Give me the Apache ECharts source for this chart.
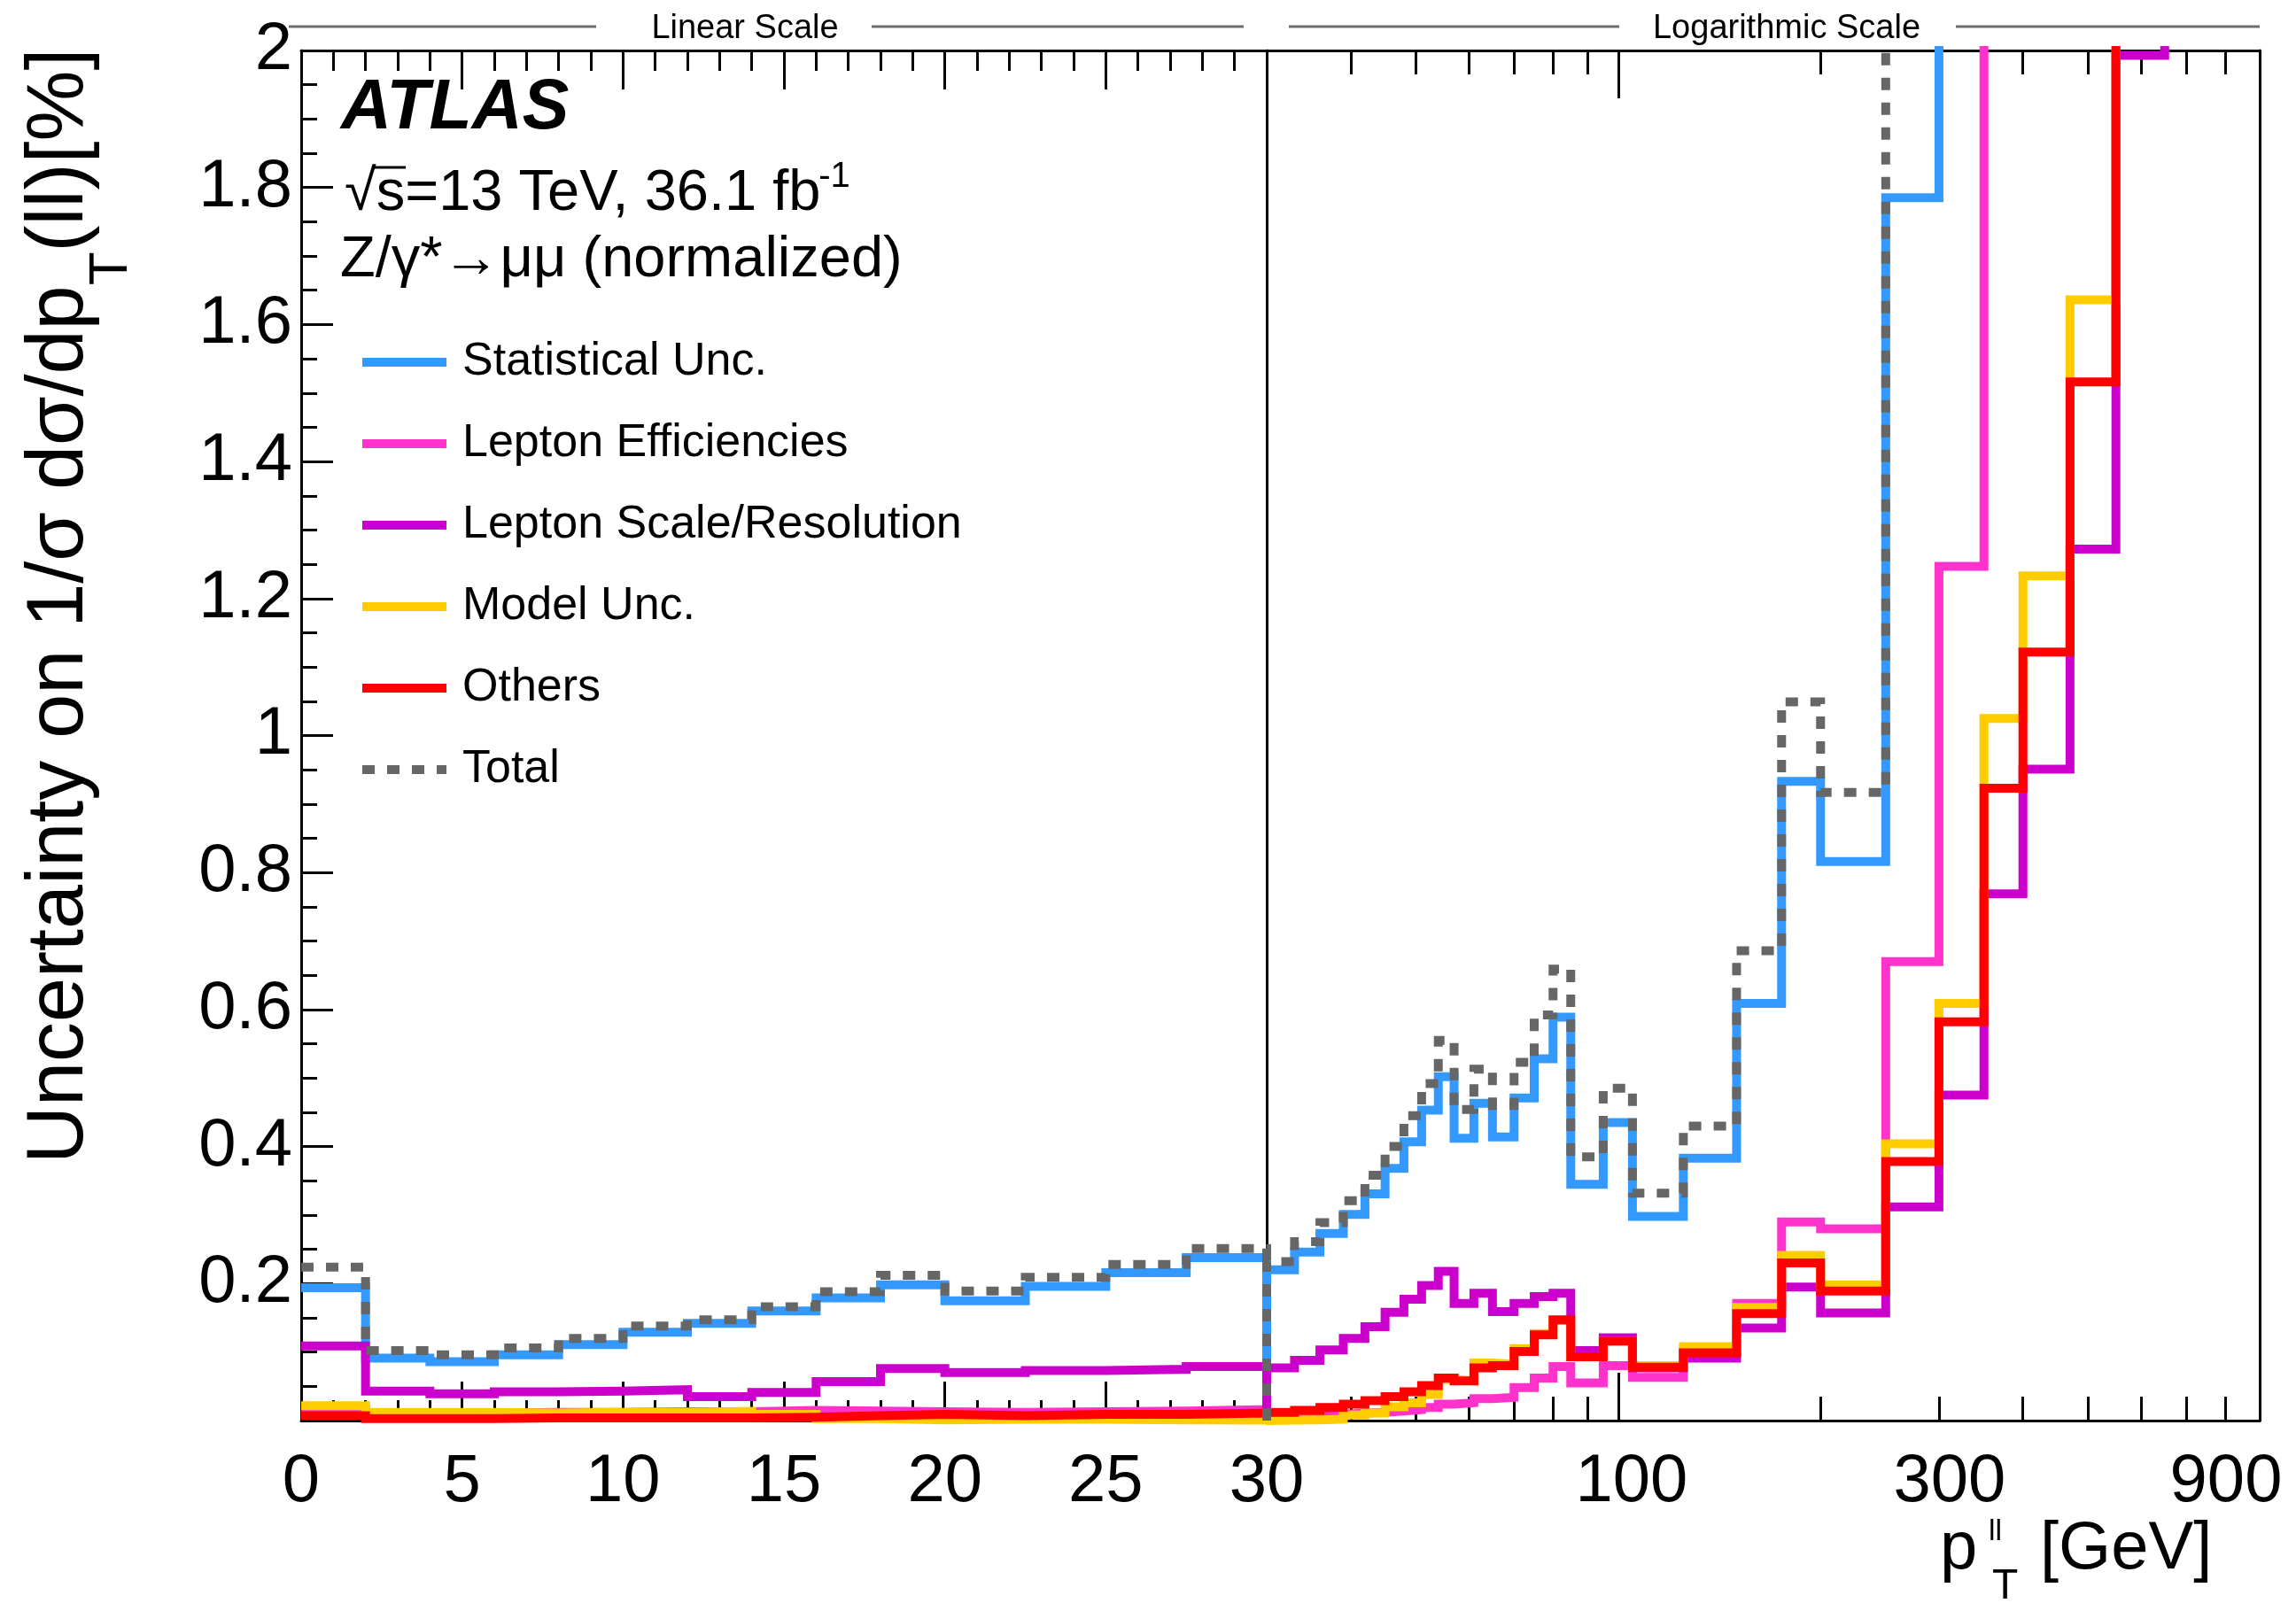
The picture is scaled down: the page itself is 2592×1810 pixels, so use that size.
<!DOCTYPE html>
<html>
<head>
<meta charset="utf-8">
<title>Uncertainty on normalized pT(ll)</title>
<script src="https://cdn.jsdelivr.net/npm/echarts@6/dist/echarts.min.js"></script>
<style>
html, body { margin: 0; padding: 0; background: #fff; }
#chart { width: 2592px; height: 1810px; }
</style>
</head>
<body>
<div id="chart"></div>
<script>
const FONT = "'Liberation Sans', Arial, Helvetica, sans-serif";

// bin edges [GeV]
const edgesLin = [0, 2, 4, 6, 8, 10, 12, 14, 16, 18, 20, 22.5, 25, 27.5, 30];
const edgesLog = [30, 33, 36, 39, 42, 45, 48, 51, 54, 57, 61, 65, 70, 75, 80, 85, 95, 105, 125,
  150, 175, 200, 250, 300, 350, 400, 470, 550, 650, 900];

// uncertainties [%], linear part 0-30 GeV
const statLin  = [0.194, 0.091, 0.086, 0.096, 0.111, 0.129, 0.142, 0.160, 0.179, 0.198, 0.175, 0.196, 0.216, 0.238];
const effLin   = [0.0155, 0.011, 0.011, 0.012, 0.012, 0.013, 0.013, 0.015, 0.014, 0.013, 0.012, 0.013, 0.014, 0.016];
const scaleLin = [0.109, 0.043, 0.039, 0.042, 0.043, 0.045, 0.035, 0.041, 0.057, 0.076, 0.070, 0.073, 0.075, 0.079];
const modelLin = [0.0215, 0.012, 0.012, 0.011, 0.012, 0.012, 0.0135, 0.009, 0.003, 0.001, 0.002, 0.002, 0.001, 0.0005];
const otherLin = [0.007, 0.003, 0.003, 0.004, 0.004, 0.004, 0.004, 0.005, 0.007, 0.009, 0.007, 0.009, 0.009, 0.011];
const totalLin = [0.224, 0.102, 0.096, 0.106, 0.120, 0.138, 0.147, 0.166, 0.188, 0.212, 0.189, 0.209, 0.228, 0.251];

// log part 30-900 GeV (values above 2 run out of the frame)
const statLog  = [0.220, 0.246, 0.273, 0.301, 0.331, 0.368, 0.407, 0.453, 0.502, 0.412, 0.463, 0.414, 0.471, 0.528, 0.589,
  0.345, 0.435, 0.298, 0.383, 0.609, 0.933, 0.816, 1.785, 2.6, 3.3, 4.0, 5.0, 6.2, 8.0];
const effLog   = [0.003, 0.005, 0.009, 0.011, 0.012, 0.014, 0.016, 0.019, 0.024, 0.026, 0.032, 0.034, 0.048, 0.062, 0.079,
  0.055, 0.080, 0.063, 0.100, 0.171, 0.290, 0.280, 0.670, 1.247, 2.4, 2.9, 3.5, 4.2, 5.0];
const scaleLog = [0.077, 0.088, 0.103, 0.120, 0.137, 0.158, 0.177, 0.197, 0.218, 0.171, 0.186, 0.159, 0.171, 0.181, 0.186,
  0.102, 0.121, 0.077, 0.091, 0.135, 0.195, 0.157, 0.312, 0.475, 0.769, 0.951, 1.272, 1.993, 2.6];
const modelLog = [0.0005, 0.001, 0.002, 0.008, 0.011, 0.020, 0.026, 0.038, 0.060, 0.058, 0.084, 0.082, 0.105, 0.127, 0.146,
  0.093, 0.116, 0.080, 0.108, 0.165, 0.241, 0.198, 0.404, 0.609, 1.025, 1.233, 1.636, 2.5, 3.3];
const otherLog = [0.012, 0.015, 0.019, 0.024, 0.029, 0.035, 0.042, 0.051, 0.062, 0.058, 0.077, 0.080, 0.101, 0.125, 0.147,
  0.093, 0.116, 0.078, 0.099, 0.156, 0.230, 0.189, 0.378, 0.582, 0.923, 1.122, 1.516, 2.4, 3.2];
const totalLog = [0.232, 0.261, 0.289, 0.321, 0.358, 0.400, 0.445, 0.492, 0.555, 0.454, 0.513, 0.460, 0.523, 0.592, 0.659,
  0.385, 0.485, 0.332, 0.430, 0.686, 1.049, 0.917, 2.5, 3.3, 4.0, 4.6, 5.6, 6.8, 8.6];

const names  = ['Statistical Unc.', 'Lepton Efficiencies', 'Lepton Scale/Resolution', 'Model Unc.', 'Others', 'Total'];
const colors = ['#3399ff', '#ff33cc', '#cc00cc', '#ffcc00', '#ff0000', '#666666'];
const linVals = [statLin, effLin, scaleLin, modelLin, otherLin, totalLin];
const logVals = [statLog, effLog, scaleLog, modelLog, otherLog, totalLog];

// log axis ticks / labels
const logMajor  = [100];
const logMinor  = [40, 50, 60, 70, 80, 90, 200, 300, 400, 500, 600, 700, 800, 900];
const logLabels = [100, 300, 900];

// step outline of a histogram; optionally drops to zero at its first / last edge
function histPoints(edges, vals, dropStart, dropEnd) {
  const last = edges[edges.length - 1];
  const pts = dropStart ? [[edges[0], 0]] : [];
  vals.forEach(function (v, i) { pts.push([edges[i], v]); });
  pts.push([last, vals[vals.length - 1]]);
  if (dropEnd) pts.push([last, 0]);
  return pts;
}

const measure = document.createElement('canvas').getContext('2d');
function textW(str, size, style) {
  measure.font = (style || '') + ' ' + size + 'px ' + FONT;
  return measure.measureText(str).width;
}

// text placed by its baseline
function txt(str, x, base, size, opts) {
  opts = opts || {};
  return {
    type: 'text', x: x, y: base - 0.35 * size, silent: true,
    style: {
      text: str, fontSize: size, fontFamily: FONT, fill: '#000',
      fontWeight: opts.weight || 'normal', fontStyle: opts.style || 'normal',
      textAlign: opts.align || 'left', align: opts.align || 'left',
      textVerticalAlign: 'middle', verticalAlign: 'middle'
    }
  };
}
function hline(x1, x2, y, color, w) {
  return { type: 'line', silent: true, shape: { x1: x1, y1: y, x2: x2, y2: y },
    style: { stroke: color, lineWidth: w } };
}

const L = 340, MID = 1430, R = 2551, TOP = 57, BOT = 1604;
const LW = 10;

const series = [];
names.forEach(function (n, i) {
  const ls = { color: colors[i], width: LW, cap: 'butt', join: 'miter', type: i === 5 ? [14, 14] : 'solid' };
  series.push({ name: n, type: 'line', step: 'end', xAxisIndex: 0, yAxisIndex: 0, symbol: 'none',
    data: histPoints(edgesLin, linVals[i], false, true), lineStyle: ls, itemStyle: { color: colors[i] } });
});
names.forEach(function (n, i) {
  const ls = { color: colors[i], width: LW, cap: 'butt', join: 'miter', type: i === 5 ? [14, 14] : 'solid' };
  series.push({ name: n, type: 'line', step: 'end', xAxisIndex: 2, yAxisIndex: 1, symbol: 'none',
    data: histPoints(edgesLog, logVals[i], true, false), lineStyle: ls, itemStyle: { color: colors[i] } });
});

const black = { color: '#000', width: 3 };
function linX(pos, labels) {
  return {
    type: 'value', gridIndex: 0, position: pos, min: 0, max: 30, interval: 5,
    axisLine: { show: true, onZero: false, lineStyle: black },
    axisTick: { show: true, inside: true, length: 44, lineStyle: black },
    minorTick: { show: true, splitNumber: 5, length: 23, lineStyle: black },
    axisLabel: { show: labels, fontSize: 76, fontFamily: FONT, color: '#000', margin: 32 },
    splitLine: { show: false }, minorSplitLine: { show: false }
  };
}
function logX(pos, line, ticks, len, labels) {
  const ax = {
    type: 'log', logBase: 10, gridIndex: 1, position: pos, min: 30, max: 900,
    axisLine: { show: line, onZero: false, lineStyle: black },
    axisTick: { show: true, inside: true, length: len, customValues: ticks, lineStyle: black },
    minorTick: { show: false },
    axisLabel: { show: false },
    splitLine: { show: false }
  };
  if (labels) {
    ax.axisLabel = {
      show: true, customValues: logLabels, margin: 32, color: '#000', fontSize: 76, fontFamily: FONT,
      formatter: function (v) { const r = Math.round(v); return '{t' + r + '|' + r + '}'; },
      rich: {
        t100: { fontSize: 76, fontFamily: FONT, color: '#000', padding: [0, 0, 0, 30] },
        t300: { fontSize: 76, fontFamily: FONT, color: '#000', padding: [0, 0, 0, 24] },
        t900: { fontSize: 76, fontFamily: FONT, color: '#000', padding: [0, 76, 0, 0] }
      }
    };
  }
  return ax;
}

// y title pieces
const yFs = 90, ySub = 62;
const y1 = 'Uncertainty on 1/\u03c3 d\u03c3/dp', y2 = 'T', y3 = '(ll)[%]';
const w1 = textW(y1, yFs), w2 = textW(y2, ySub);
const yTitle = {
  type: 'group', x: 100 - 0.35 * yFs, y: 1314, rotation: Math.PI / 2, silent: true,
  children: [
    { type: 'text', x: 0, y: 0, style: { text: y1, fontSize: yFs, fontFamily: FONT, fill: '#000',
      textAlign: 'left', align: 'left', textVerticalAlign: 'middle', verticalAlign: 'middle' } },
    { type: 'text', x: w1, y: 0.35 * yFs + 48 - 0.35 * ySub, style: { text: y2, fontSize: ySub, fontFamily: FONT, fill: '#000',
      textAlign: 'left', align: 'left', textVerticalAlign: 'middle', verticalAlign: 'middle' } },
    { type: 'text', x: w1 + w2, y: 0, style: { text: y3, fontSize: yFs, fontFamily: FONT, fill: '#000',
      textAlign: 'left', align: 'left', textVerticalAlign: 'middle', verticalAlign: 'middle' } }
  ]
};

const sLine = '\u221as=13 TeV, 36.1 fb';
const sW = textW(sLine, 64), rootW = textW('\u221a', 64), rootSW = textW('\u221as', 64);

const graphics = [
  yTitle,
  hline(326, 673, 30, '#6e6e6e', 3), hline(984, 1404, 30, '#6e6e6e', 3),
  hline(1455, 1828, 30, '#6e6e6e', 3), hline(2208, 2551, 30, '#6e6e6e', 3),
  txt('Linear Scale', 841, 46, 38, { align: 'center' }),
  txt('Logarithmic Scale', 2017, 46, 38, { align: 'center' }),
  txt('ATLAS', 385, 151, 79, { weight: 'bold', style: 'italic' }),
  txt(sLine, 389, 242, 65),
  txt('-1', 389 + sW + 6, 214, 40),
  hline(389 + rootW - 4, 389 + rootSW + 2, 189, '#000', 3),
  txt('Z/\u03b3*\u2192\u03bc\u03bc (normalized)', 384, 317, 65),
  txt('p', 2190, 1777, 76),
  txt('ll', 2245, 1742, 34),
  txt('T', 2249, 1809, 48),
  txt('[GeV]', 2303, 1777, 76)
];

const option = {
  backgroundColor: '#fff',
  animation: false,
  textStyle: { fontFamily: FONT },
  grid: [
    { left: L, top: TOP, width: MID - L, height: BOT - TOP, outerBoundsMode: 'none', containLabel: false },
    { left: MID, top: TOP, width: R - MID, height: BOT - TOP, outerBoundsMode: 'none', containLabel: false }
  ],
  xAxis: [
    linX('bottom', true),
    linX('top', false),
    logX('bottom', true, logMajor, 54, true),
    logX('bottom', false, logMinor, 27, false),
    logX('top', true, logMajor, 54, false),
    logX('top', false, logMinor, 27, false)
  ],
  yAxis: [
    {
      type: 'value', gridIndex: 0, position: 'left', min: 0, max: 2, interval: 0.2,
      axisLine: { show: true, onZero: false, lineStyle: black },
      axisTick: { show: true, inside: true, length: 36, lineStyle: black },
      minorTick: { show: true, splitNumber: 4, length: 18, lineStyle: black },
      axisLabel: { fontSize: 76, fontFamily: FONT, color: '#000', margin: 10,
        formatter: function (v) { return v === 0 ? '' : String(+v.toFixed(1)); } },
      splitLine: { show: false }
    },
    {
      type: 'value', gridIndex: 1, position: 'left', min: 0, max: 2,
      axisLine: { show: true, onZero: false, lineStyle: black },
      axisTick: { show: false }, axisLabel: { show: false }, splitLine: { show: false }
    },
    {
      type: 'value', gridIndex: 1, position: 'right', min: 0, max: 2,
      axisLine: { show: true, onZero: false, lineStyle: black },
      axisTick: { show: false }, axisLabel: { show: false }, splitLine: { show: false }
    }
  ],
  legend: {
    orient: 'vertical', left: 404, top: 383, padding: 0,
    itemWidth: 95, itemHeight: 52, itemGap: 40,
    selectedMode: false,
    textStyle: { fontSize: 52, fontFamily: FONT, color: '#000', padding: [0, 0, 0, 13] },
    itemStyle: { opacity: 0 },
    lineStyle: { width: LW },
    data: names
  },
  graphic: graphics,
  series: series
};

const chart = echarts.init(document.getElementById('chart'), null, { renderer: 'canvas' });
chart.setOption(option);
</script>
</body>
</html>
